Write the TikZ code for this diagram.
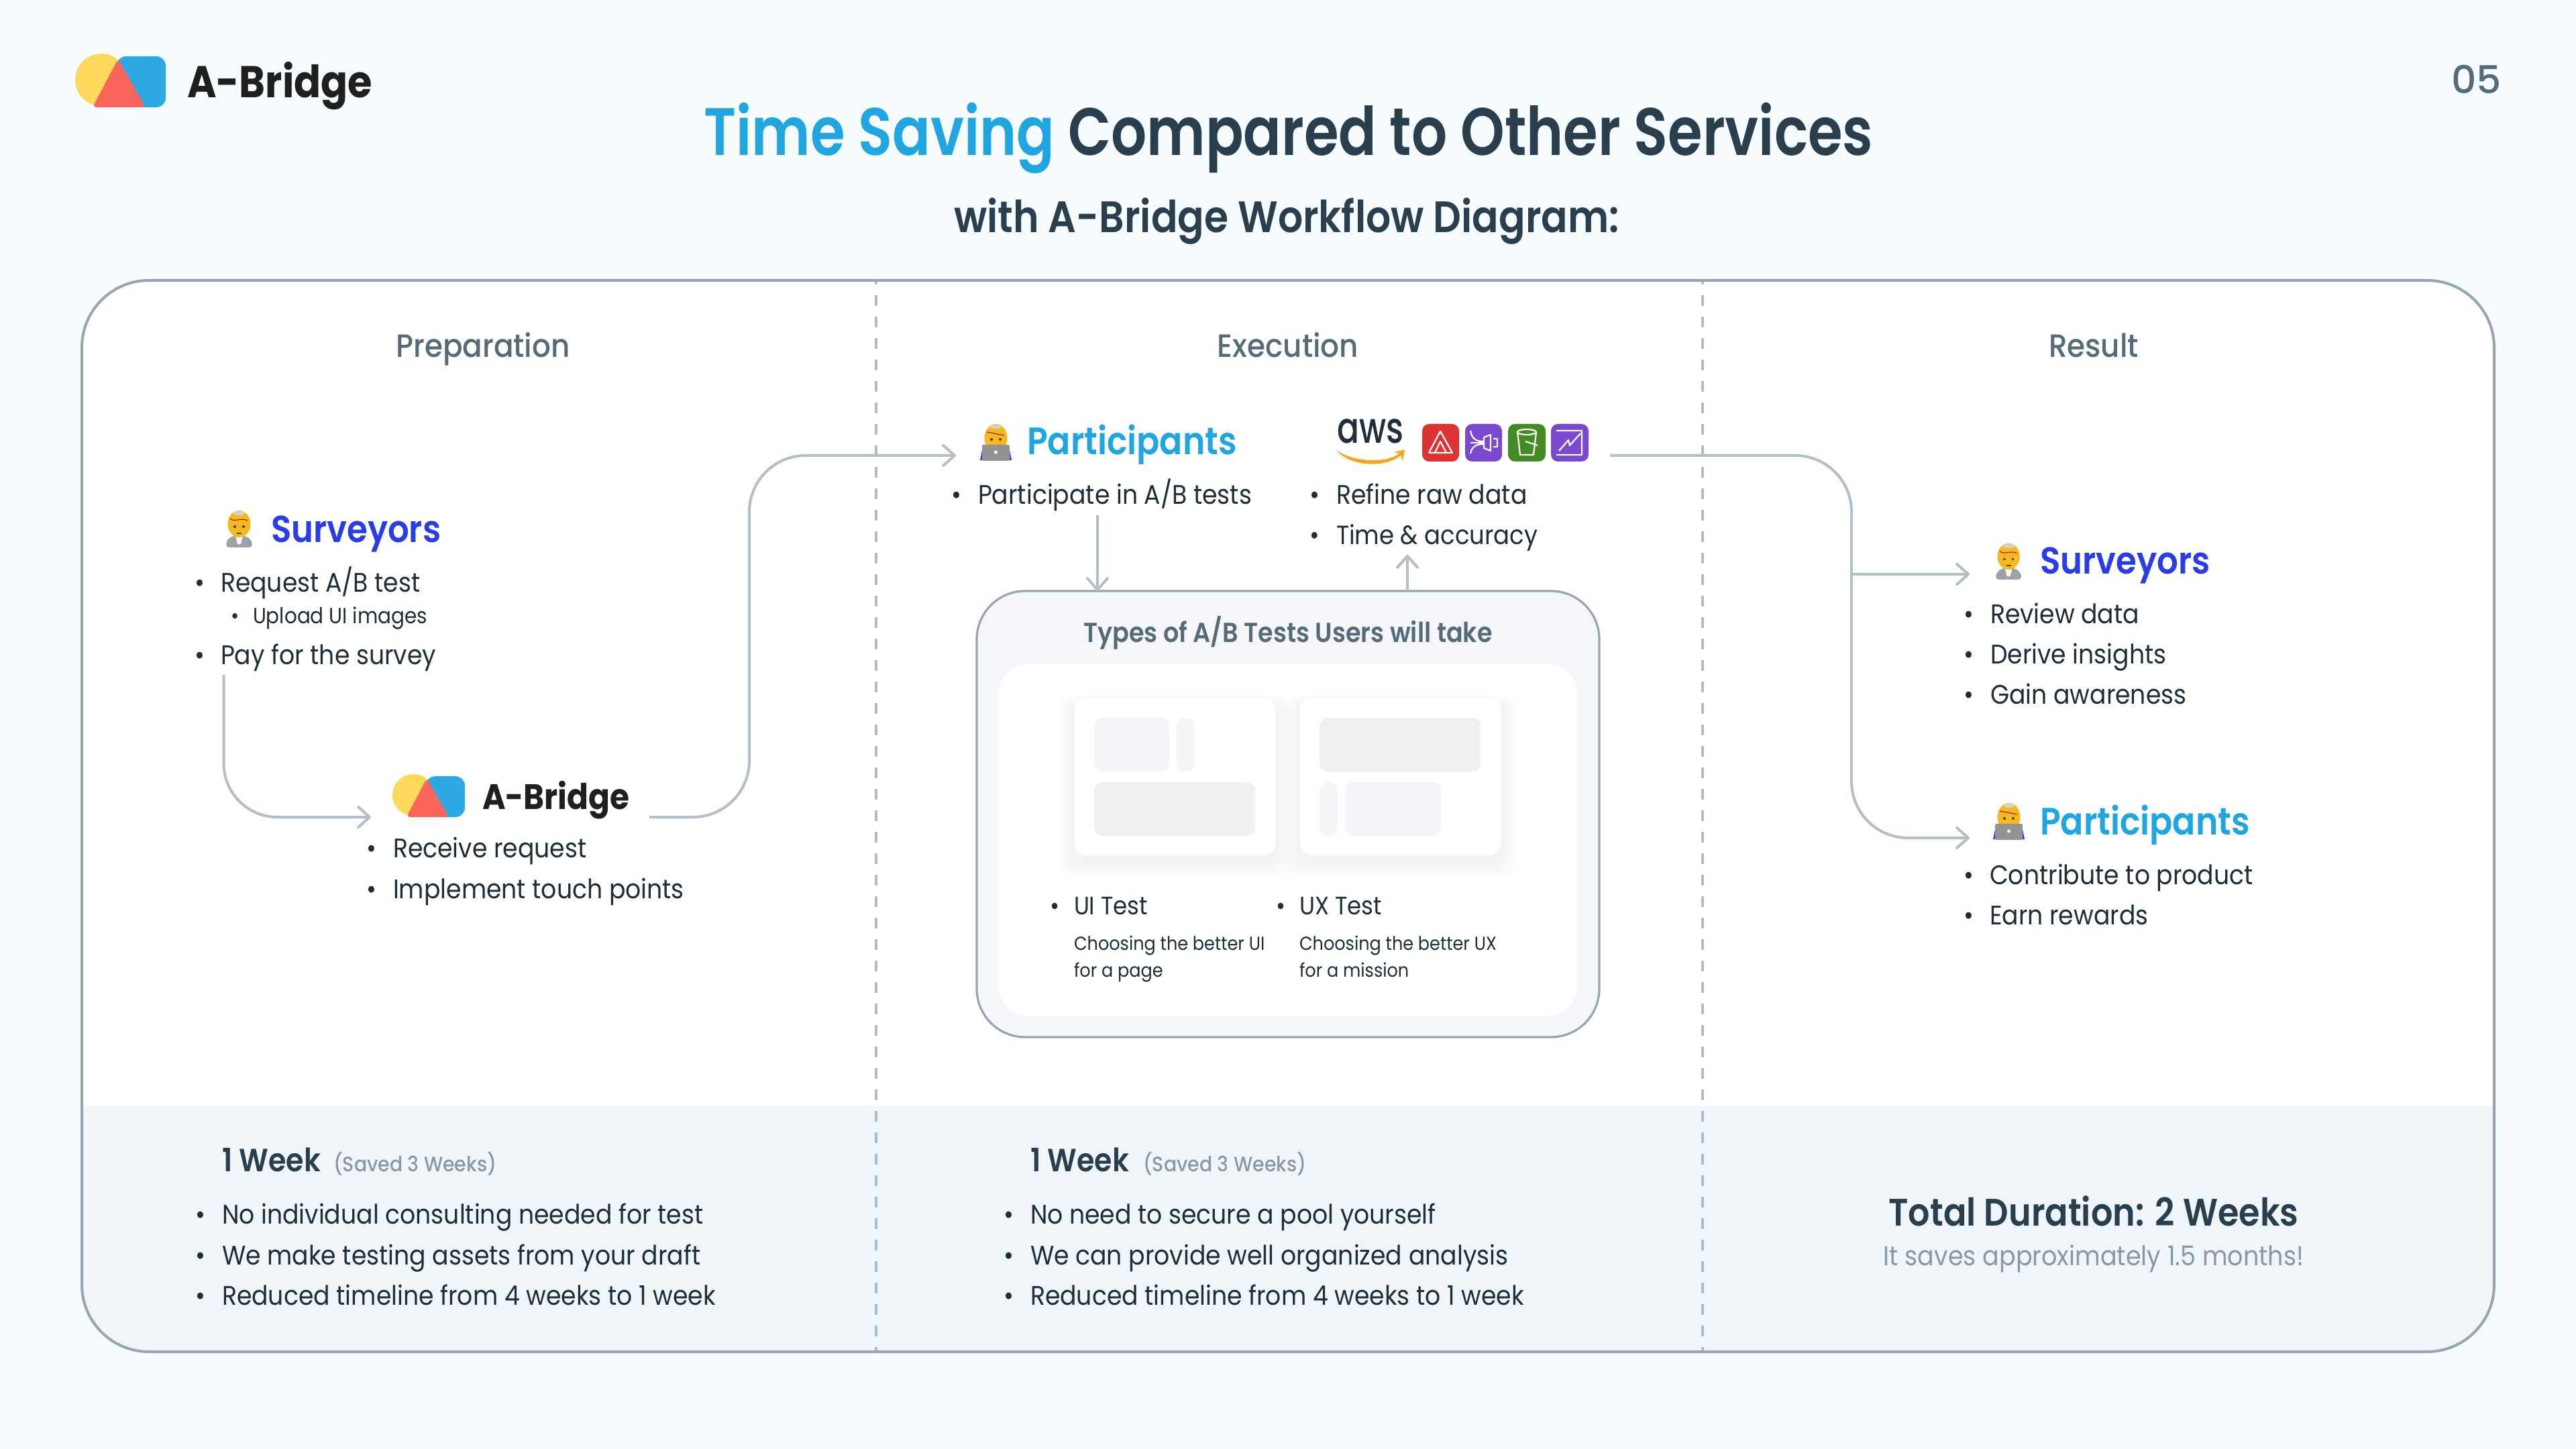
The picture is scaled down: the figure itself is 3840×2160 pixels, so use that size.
\documentclass[tikz,border=0pt]{standalone}
\usepackage{fontspec}
\usetikzlibrary{arrows.meta,calc}
\setmainfont{Poppins}[FakeStretch=0.905,BoldFont={Poppins SemiBold}]
\newfontfamily\medf{Poppins Medium}[FakeStretch=0.91]
\newfontfamily\semif{Poppins SemiBold}[FakeStretch=0.89]
\newfontfamily\titlef{Poppins SemiBold}[FakeStretch=0.835]
\newfontfamily\boldf{Poppins Bold}[FakeStretch=0.89]
\newfontfamily\numf{Poppins Medium}[FakeStretch=1.02]
\newfontfamily\awsf{Poppins Medium}[FakeStretch=0.76]
\definecolor{pagebg}{HTML}{F6FBFE}
\definecolor{bandbg}{HTML}{F0F5F9}
\definecolor{framec}{HTML}{98A5B0}
\definecolor{dashc}{HTML}{AEBAC4}
\definecolor{linec}{HTML}{B4BEC5}
\definecolor{ink}{HTML}{1E2D38}
\definecolor{titleink}{HTML}{2A3F4D}
\definecolor{headc}{HTML}{566B78}
\definecolor{greyt}{HTML}{8A98A4}
\definecolor{tblue}{HTML}{1FA5DF}
\definecolor{sblue}{HTML}{2A3BE8}
\definecolor{boxbg}{HTML}{F4F6FA}
\definecolor{gd}{HTML}{EFF0F2}
\definecolor{gl}{HTML}{F4F5F8}
\definecolor{logoy}{HTML}{FDD85D}
\definecolor{logob}{HTML}{2CA9E3}
\definecolor{logor}{HTML}{F9655B}
\definecolor{hairy}{HTML}{F5B81E}
\definecolor{suit}{HTML}{9CA3A8}
\definecolor{awsink}{HTML}{1F2E3B}
\definecolor{awso}{HTML}{F5A81C}
\definecolor{icr}{HTML}{DD3333}
\definecolor{icp}{HTML}{7B48D0}
\definecolor{icg}{HTML}{458B24}
\newcommand\fsz[1]{\fontsize{#1pt}{#1pt}\selectfont}
\newcommand\tx[6]{\node[lbl,text=#5] (#1) at (#2,#3) {\fsz{#4}#6};}
\newcommand\ctx[6]{\node[clbl,text=#5] (#1) at (#2,#3) {\fsz{#4}#6};}
\newcommand\bl[6]{\node[clbl,text=ink] (#1b) at (#2,#4) {\fsz{#6}•};\node[lbl,text=ink] (#1) at (#3,#4) {\fsz{#6}#5};}
\newcommand\logomark[3]{\begin{scope}[shift={(#1,#2)},scale=#3]
  \fill[logoy] (39,39) circle[radius=39];
  \fill[logob,rounded corners=3.5pt] (62,4) rectangle (135,80);
  \fill[logor,rounded corners=1.5pt] (64,8) -- (26,80) -- (105,80) -- cycle;
\end{scope}}
\newcommand\surveyor[3]{\begin{scope}[shift={(#1,#2)},scale=#3]
  \fill[suit,rounded corners=1.5pt] (0,55) -- (3,42) -- (14,37) -- (27,37) -- (38,42) -- (41,55) -- cycle;
  \fill[white] (15,38) -- (26,38) -- (23,50) -- (18,50) -- cycle;
  \fill[hairy] (20.5,20) ellipse[x radius=17,y radius=20];
  \fill[gray!35] (20.5,4) ellipse[x radius=9,y radius=3];
  \draw[red!70!black,line width=.25pt] (7,12) .. controls (14,18) and (24,10) .. (33,15);
  \fill[black!75] (14,24) circle[radius=2] (27,24) circle[radius=2];
  \fill[black!70] (17,33) rectangle (24,34.5);
\end{scope}}
\newcommand\participant[3]{\begin{scope}[shift={(#1,#2)},scale=#3]
  \fill[sblue] (0,53) -- (3,38) -- (44,38) -- (47,53) -- cycle;
  \fill[hairy] (23.5,20) ellipse[x radius=17,y radius=21];
  \fill[gray!35] (23.5,3) ellipse[x radius=8,y radius=3];
  \draw[red!70!black,line width=.25pt] (10,11) -- (36,16);
  \fill[black!75] (17,22) circle[radius=2] (30,22) circle[radius=2];
  \fill[gray!85,rounded corners=.5pt] (3,30) rectangle (44,54);
  \fill[white] (23.5,41) circle[radius=2.5];
\end{scope}}
\tikzset{
  lbl/.style={anchor=base west,inner sep=0pt,outer sep=0pt},
  clbl/.style={anchor=base,inner sep=0pt,outer sep=0pt},
  conn/.style={draw=linec,line width=1pt},
  connA/.style={conn,-{Straight Barb[length=4.2pt,width=7.5pt,line width=1pt,round]}},
  divider/.style={draw=dashc,line width=1pt,dash pattern=on 4pt off 4pt,dash phase=3pt},
  iconbox/.style={rounded corners=2.6pt},
  iconln/.style={draw=white,line width=.55pt,line join=round}
}
\begin{document}
\begin{tikzpicture}[x=0.25pt,y=-0.25pt]
\useasboundingbox (0,0) rectangle (3840,2160);
\fill[pagebg] (0,0) rectangle (3840,2160);
% panel
\fill[white,rounded corners=25pt] (122,418) rectangle (3718,2015);
\begin{scope}
  \clip[rounded corners=25pt] (122,418) rectangle (3718,2015);
  \fill[bandbg] (122,1648) rectangle (3718,2015);
\end{scope}
\draw[divider] (1306,420) -- (1306,2013);
\draw[divider] (2538,420) -- (2538,2013);
\draw[framec,line width=1pt,rounded corners=25pt] (122,418) rectangle (3718,2015);
% header
\logomark{112}{80}{1}
\tx{brand}{279}{146}{16.6}{black!88}{\boldf A-Bridge}
\ctx{title}{1921}{232}{25}{titleink}{\titlef{\color{tblue}Time Saving} Compared to Other Services}
\ctx{subtitle}{1918}{347}{16.4}{titleink}{\semif with A-Bridge Workflow Diagram:}
\tx{pagenum}{3654}{140}{14.3}{headc}{\numf 05}
\ctx{h1}{720}{533}{12}{headc}{\medf Preparation}
\ctx{h2}{1920}{533}{12}{headc}{\medf Execution}
\ctx{h3}{3121}{533}{12}{headc}{\medf Result}
% preparation
\surveyor{336}{761}{1}
\tx{sv1}{404}{808}{14}{sblue}{\semif Surveyors}
\bl{r1}{298}{329}{882}{Request A/B test}{10}
\bl{r2}{351}{377}{929}{Upload UI images}{8.15}
\bl{r3}{298}{329}{990}{Pay for the survey}{10}
\logomark{585}{1154}{.8}
\tx{brand2}{719}{1206}{13.2}{black!88}{\boldf A-Bridge}
\bl{a1}{554}{586}{1278}{Receive request}{10}
\bl{a2}{554}{586}{1339}{Implement touch points}{10}
% execution
\participant{1461}{633}{1}
\tx{pt1}{1531}{678}{14.2}{tblue}{\semif Participants}
\bl{p1}{1426}{1458}{751}{Participate in A/B tests}{10}
\node[clbl,text=awsink] (aws) at (2043,660) {\fsz{16}\awsf aws};
\fill[awso] (1992,671) .. controls (2015,688) and (2065,692) .. (2086,676) -- (2078,674) -- (2094,670) -- (2091,687) -- (2088,679) .. controls (2065,698) and (2012,696) .. (1992,671) -- cycle;
% aws icons
\begin{scope}[shift={(2120,632)}]
  \fill[icr,iconbox] (0,0) rectangle (55,56);
  \draw[iconln] (10,43) -- (27,11) -- (45,43) -- (10,43) (19,43) -- (27,26) -- (36,43);
\end{scope}
\begin{scope}[shift={(2184,632)}]
  \fill[icp,iconbox] (0,0) rectangle (55,56);
  \draw[iconln] (8,10) .. controls (10,22) and (16,26) .. (28,26) (8,44) .. controls (10,34) and (16,30) .. (28,30) (28,20) -- (38,16) -- (38,40) -- (28,36) -- cycle (8,28) -- (28,28) (42,22) -- (48,22) -- (48,34) -- (42,34);
\end{scope}
\begin{scope}[shift={(2248,632)}]
  \fill[icg,iconbox] (0,0) rectangle (56,56);
  \draw[iconln] (14,12) -- (18,46) -- (38,46) -- (42,12) (28,12) ellipse[x radius=14,y radius=4] (26,26) -- (44,32);
\end{scope}
\begin{scope}[shift={(2312,632)}]
  \fill[icp,iconbox] (0,0) rectangle (56,56);
  \draw[iconln] (8,10) -- (46,10) -- (46,46) -- (8,46) (12,40) -- (26,24) -- (28,32) -- (44,14);
\end{scope}
\bl{d1}{1960}{1992}{751}{Refine raw data}{10}
\bl{d2}{1960}{1992}{811}{Time \& accuracy}{9.8}
% types box
\node[draw=framec,fill=boxbg,line width=.8pt,rounded corners=18pt,minimum width=232pt,minimum height=166.25pt,inner sep=0pt,outer sep=0pt] (typesbox) at (1920,1213.5) {};
\fill[white,rounded corners=11pt] (1488,990) rectangle (2351,1514);
\ctx{types}{1920}{957}{10.25}{headc}{\semif Types of A/B Tests Users will take}
\foreach \cx in {1601,1937}{
  \foreach \k in {2,4,...,24}{
    \fill[black,opacity=.0028,rounded corners=5pt] ({\cx-\k},{1038+10-\k/2}) rectangle ({\cx+301+\k},{1276+10+\k});
  }
  \fill[white,rounded corners=5pt] (\cx,1038) rectangle ({\cx+301},1276);
  \draw[gl,line width=.3pt,rounded corners=5pt] (\cx,1038) rectangle ({\cx+301},1276);
}
\fill[gl,rounded corners=3pt] (1631,1070) rectangle (1743,1150);
\fill[gl,rounded corners=3pt] (1754,1070) rectangle (1781,1150);
\fill[gd,rounded corners=3pt] (1631,1166) rectangle (1871,1246);
\fill[gd,rounded corners=3pt] (1967,1070) rectangle (2207,1150);
\fill[gl,rounded corners=3pt] (1967,1166) rectangle (1994,1246);
\fill[gl,rounded corners=3pt] (2005,1166) rectangle (2148,1246);
\bl{ui}{1572}{1601}{1363}{UI Test}{9.4}
\bl{ux}{1909}{1937}{1363}{UX Test}{9.4}
\tx{ui1}{1601}{1416}{7.05}{ink}{Choosing the better UI}
\tx{ui2}{1601}{1456}{7.05}{ink}{for a page}
\tx{ux1}{1937}{1416}{7.05}{ink}{Choosing the better UX}
\tx{ux2}{1937}{1456}{7.05}{ink}{for a mission}
% result
\surveyor{2974}{810}{.98}
\tx{sv2}{3041}{855}{14}{sblue}{\semif Surveyors}
\bl{s1}{2935}{2967}{929}{Review data}{10}
\bl{s2}{2935}{2967}{989}{Derive insights}{10}
\bl{s3}{2935}{2967}{1049}{Gain awareness}{10}
\participant{2971}{1198}{1}
\tx{pt2}{3041}{1244}{14.2}{tblue}{\semif Participants}
\bl{c1}{2935}{2966}{1318}{Contribute to product}{10}
\bl{c2}{2935}{2966}{1378}{Earn rewards}{10}
% bottom band
\tx{w1}{331}{1746}{12}{titleink}{\semif 1 Week}
\tx{w1s}{497}{1746}{7.8}{greyt}{\medf (Saved 3 Weeks)}
\bl{b1}{299}{331}{1824}{No individual consulting needed for test}{10}
\bl{b2}{299}{331}{1885}{We make testing assets from your draft}{10}
\bl{b3}{299}{331}{1945}{Reduced timeline from 4 weeks to 1 week}{10}
\tx{w2}{1536}{1746}{12}{titleink}{\semif 1 Week}
\tx{w2s}{1704}{1746}{7.8}{greyt}{\medf (Saved 3 Weeks)}
\bl{e1}{1504}{1536}{1824}{No need to secure a pool yourself}{10}
\bl{e2}{1504}{1536}{1885}{We can provide well organized analysis}{10}
\bl{e3}{1504}{1536}{1945}{Reduced timeline from 4 weeks to 1 week}{10}
\ctx{total}{3121}{1827}{14.3}{titleink}{\semif Total Duration: 2 Weeks}
\ctx{saves}{3121}{1886}{10.1}{greyt}{It saves approximately 1.5 months!}
% connectors
\coordinate (k1s) at (333.5,1006);
\coordinate (k1c) at (333.5,1218);
\coordinate (k1e) at (553,1218);
\coordinate (k2s) at (968,1218);
\coordinate (k2c) at (1117,1218);
\coordinate (k2d) at (1117,679);
\coordinate (k2e) at (1425,679);
\coordinate (k3s) at (1636,768);
\coordinate (k4e) at (2098,827);
\coordinate (k5s) at (2400,679);
\coordinate (k5c) at (2760,679);
\coordinate (k5d) at (2760,1249);
\coordinate (k5e) at (2936,1249);
\coordinate (k6s) at (2760,856);
\coordinate (k6e) at (2936,856);
\draw[connA,rounded corners=20pt] (k1s) -- (k1c) -- (k1e);
\draw[connA,rounded corners=21pt] (k2s) -- (k2c) -- (k2d) -- (k2e);
\draw[connA] (k3s) -- (k3s |- typesbox.north);
\draw[connA] (k4e |- typesbox.north) -- (k4e);
\draw[connA,rounded corners=21pt] (k5s) -- (k5c) -- (k5d) -- (k5e);
\draw[connA] (k6s) -- (k6e);
\end{tikzpicture}
\end{document}
